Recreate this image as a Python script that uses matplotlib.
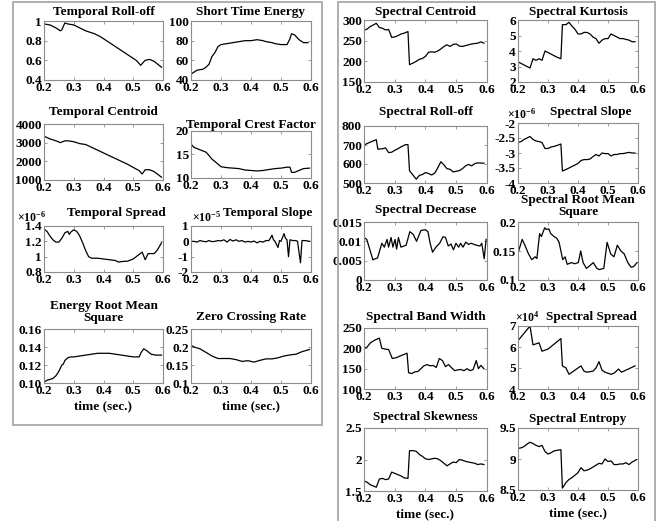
import numpy as np
import matplotlib
matplotlib.use("Agg")
import matplotlib.pyplot as plt
from matplotlib.patches import Rectangle

W, H = 667, 521

# ---- data ----
troll_t = [0.20, 0.22, 0.24, 0.255, 0.26, 0.27, 0.28, 0.30, 0.32, 0.34, 0.37, 0.39, 0.40, 0.42,
           0.45, 0.48, 0.51, 0.525, 0.54, 0.555, 0.57, 0.595]
troll_v = [0.97, 0.96, 0.93, 0.90, 0.91, 0.98, 0.97, 0.96, 0.93, 0.90, 0.87, 0.84, 0.82, 0.78,
           0.72, 0.66, 0.60, 0.55, 0.60, 0.61, 0.59, 0.53]

ste_t = [0.20, 0.21, 0.22, 0.24, 0.25, 0.26, 0.27, 0.28, 0.29, 0.30, 0.32, 0.34, 0.36, 0.38,
         0.40, 0.42, 0.44, 0.45, 0.47, 0.48, 0.50, 0.52, 0.53, 0.535, 0.545, 0.56, 0.575, 0.59]
ste_v = [46, 48, 50, 51, 53, 56, 64, 68, 74, 76, 77, 78, 79, 80,
         80, 81, 80, 79, 78, 77, 76, 76, 82, 87, 86, 81, 78, 78]

tcen_t = [0.20, 0.22, 0.24, 0.255, 0.27, 0.28, 0.30, 0.32, 0.34, 0.36, 0.40, 0.44, 0.48, 0.52,
          0.53, 0.54, 0.555, 0.57, 0.595]
tcen_v = [3350, 3200, 3100, 3000, 3100, 3100, 3050, 2950, 2900, 2750, 2450, 2150, 1850, 1500,
          1320, 1550, 1550, 1450, 1150]

crest_t = [0.20, 0.21, 0.23, 0.25, 0.26, 0.27, 0.28, 0.30, 0.32, 0.34, 0.36, 0.38, 0.40, 0.42,
           0.44, 0.46, 0.48, 0.50, 0.52, 0.53, 0.535, 0.545, 0.56, 0.575, 0.595]
crest_v = [17.2, 16.5, 16.0, 15.5, 14.8, 14.0, 13.5, 12.4, 12.2, 12.1, 12.0, 11.7, 11.6, 11.5,
           11.6, 11.8, 12.0, 12.1, 12.3, 12.3, 11.2, 11.2, 11.6, 12.0, 12.1]

tspr_t = [0.20, 0.21, 0.22, 0.23, 0.24, 0.25, 0.26, 0.27, 0.28, 0.285, 0.29, 0.30, 0.31, 0.32,
          0.33, 0.34, 0.35, 0.36, 0.38, 0.40, 0.42, 0.44, 0.45, 0.47, 0.48, 0.50, 0.52, 0.53,
          0.54, 0.55, 0.57, 0.58, 0.595]
tspr_v = [1.36, 1.33, 1.27, 1.22, 1.19, 1.19, 1.24, 1.31, 1.33, 1.29, 1.32, 1.35, 1.33, 1.27,
          1.18, 1.08, 1.00, 0.98, 0.98, 0.97, 0.96, 0.95, 0.93, 0.94, 0.94, 0.97, 1.03, 1.06,
          0.96, 1.04, 1.04, 1.08, 1.18]

tslo_t = [0.20, 0.21, 0.22, 0.23, 0.24, 0.25, 0.26, 0.27, 0.28, 0.29, 0.30, 0.31, 0.32, 0.33,
          0.34, 0.35, 0.36, 0.37, 0.38, 0.39, 0.40, 0.41, 0.42, 0.43, 0.44, 0.45, 0.46, 0.47,
          0.475, 0.48, 0.49, 0.495, 0.50, 0.51, 0.515, 0.52, 0.525, 0.53, 0.54, 0.55, 0.555,
          0.565, 0.57, 0.58, 0.595]
tslo_v = [0.0, 0.0, -0.05, 0.05, 0.0, -0.03, 0.05, -0.02, 0.0, 0.05, 0.03, 0.1, -0.05, 0.12,
          0.02, 0.1, 0.0, 0.05, -0.05, 0.0, -0.05, 0.02, -0.1, 0.0, -0.05, 0.05, 0.05, 0.4,
          0.1, 0.0, -0.4, 0.05, 0.0, 0.5, 0.2, 0.1, -1.0, 0.1, 0.05, 0.05, 0.0,
          -1.4, 0.05, 0.05, 0.0]

erms_t = [0.20, 0.21, 0.22, 0.23, 0.24, 0.25, 0.26, 0.265, 0.27, 0.28, 0.29, 0.30, 0.32, 0.34,
          0.36, 0.38, 0.40, 0.42, 0.44, 0.46, 0.48, 0.50, 0.52, 0.525, 0.535, 0.545, 0.56,
          0.575, 0.595]
erms_v = [0.101, 0.103, 0.104, 0.105, 0.108, 0.113, 0.120, 0.121, 0.125, 0.128, 0.129, 0.129,
          0.130, 0.131, 0.132, 0.133, 0.133, 0.133, 0.132, 0.131, 0.130, 0.129, 0.129, 0.133,
          0.138, 0.136, 0.132, 0.131, 0.131]

zcr_t = [0.20, 0.21, 0.23, 0.25, 0.27, 0.29, 0.31, 0.33, 0.35, 0.37, 0.39, 0.41, 0.43, 0.45,
         0.47, 0.49, 0.51, 0.53, 0.55, 0.57, 0.595]
zcr_v = [0.205, 0.200, 0.195, 0.185, 0.175, 0.168, 0.168, 0.168, 0.165, 0.160, 0.162, 0.158,
         0.163, 0.167, 0.167, 0.170, 0.175, 0.178, 0.180, 0.187, 0.193]

scen_t = [0.20, 0.21, 0.22, 0.235, 0.24, 0.25, 0.26, 0.27, 0.28, 0.285, 0.29, 0.30, 0.31, 0.32,
          0.33, 0.343, 0.348, 0.36, 0.37, 0.38, 0.39, 0.40, 0.41, 0.42, 0.43, 0.44, 0.45, 0.46,
          0.47, 0.48, 0.49, 0.50, 0.51, 0.52, 0.53, 0.54, 0.55, 0.56, 0.57, 0.58, 0.59]
scen_v = [275, 278, 284, 290, 292, 282, 280, 276, 277, 268, 258, 259, 262, 266,
          268, 272, 192, 196, 200, 205, 207, 212, 222, 223, 222, 225, 230, 236,
          240, 236, 241, 242, 237, 236, 238, 240, 242, 243, 244, 247, 244]

skur_t = [0.20, 0.21, 0.22, 0.24, 0.25, 0.26, 0.27, 0.28, 0.29, 0.30, 0.31, 0.32, 0.33, 0.343,
          0.348, 0.36, 0.37, 0.38, 0.39, 0.40, 0.41, 0.42, 0.43, 0.44, 0.45, 0.46, 0.47, 0.48,
          0.49, 0.50, 0.51, 0.52, 0.53, 0.54, 0.55, 0.56, 0.57, 0.58, 0.59]
skur_v = [3.3, 3.2, 3.1, 2.9, 3.5, 3.4, 3.5, 3.4, 4.0, 3.9, 3.8, 3.7, 3.6, 3.5,
          5.7, 5.7, 5.85, 5.6, 5.4, 5.1, 5.1, 5.2, 5.2, 5.1, 4.9, 4.8, 4.5, 4.7,
          4.8, 4.8, 5.1, 5.0, 4.9, 4.8, 4.8, 4.75, 4.7, 4.6, 4.6]

sroll_t = [0.20, 0.22, 0.24, 0.245, 0.26, 0.27, 0.28, 0.29, 0.30, 0.31, 0.32, 0.335, 0.343,
           0.348, 0.36, 0.37, 0.38, 0.39, 0.40, 0.41, 0.42, 0.43, 0.44, 0.45, 0.46, 0.47,
           0.48, 0.49, 0.50, 0.51, 0.52, 0.53, 0.54, 0.55, 0.56, 0.57, 0.58, 0.59]
sroll_v = [700, 715, 728, 678, 680, 685, 660, 662, 672, 680, 690, 702, 702,
           565, 540, 520, 540, 545, 555, 550, 542, 552, 580, 612, 595, 575,
           572, 558, 562, 565, 575, 590, 598, 590, 602, 606, 605, 604]

sslo_t = [0.20, 0.21, 0.22, 0.24, 0.25, 0.26, 0.27, 0.28, 0.29, 0.30, 0.31, 0.32, 0.33, 0.343,
          0.348, 0.36, 0.37, 0.38, 0.39, 0.40, 0.41, 0.42, 0.43, 0.44, 0.45, 0.46, 0.47, 0.48,
          0.49, 0.50, 0.51, 0.52, 0.53, 0.54, 0.55, 0.56, 0.57, 0.58, 0.59]
sslo_v = [-2.65, -2.62, -2.55, -2.45, -2.55, -2.6, -2.62, -2.65, -2.85, -2.85, -2.8, -2.78,
          -2.75, -2.7, -3.6, -3.55, -3.5, -3.45, -3.4, -3.35, -3.25, -3.22, -3.22, -3.2, -3.12,
          -3.05, -3.1, -3.0, -3.02, -3.02, -3.1, -3.05, -3.05, -3.02, -3.02, -3.0, -2.98, -3.0,
          -3.0]

sdec_t = [0.200, 0.209, 0.229, 0.237, 0.244, 0.258, 0.266, 0.275, 0.280, 0.288, 0.294, 0.301,
          0.306, 0.312, 0.320, 0.337, 0.349, 0.360, 0.371, 0.385, 0.400, 0.408, 0.415, 0.423,
          0.434, 0.446, 0.457, 0.465, 0.474, 0.483, 0.491, 0.499, 0.508, 0.514, 0.522, 0.531,
          0.540, 0.548, 0.565, 0.577, 0.583, 0.591, 0.597]
sdec_v = [0.0110, 0.0105, 0.0052, 0.0055, 0.0057, 0.0095, 0.0085, 0.0105, 0.0085, 0.0110,
          0.0085, 0.0105, 0.0080, 0.0110, 0.0085, 0.0090, 0.0125, 0.0118, 0.0100, 0.0128,
          0.0130, 0.0125, 0.0095, 0.0072, 0.0085, 0.0095, 0.0112, 0.0110, 0.0088, 0.0093,
          0.0078, 0.0095, 0.0085, 0.0095, 0.0085, 0.0098, 0.0092, 0.0095, 0.0090, 0.0088,
          0.0095, 0.0055, 0.0105]

srms_t = [0.202, 0.214, 0.223, 0.235, 0.246, 0.257, 0.263, 0.272, 0.278, 0.289, 0.295, 0.303,
          0.309, 0.320, 0.329, 0.337, 0.349, 0.357, 0.364, 0.378, 0.389, 0.401, 0.409, 0.417,
          0.428, 0.440, 0.451, 0.463, 0.471, 0.486, 0.497, 0.509, 0.520, 0.531, 0.543, 0.554,
          0.566, 0.577, 0.585, 0.597]
srms_v = [0.150, 0.170, 0.160, 0.145, 0.135, 0.140, 0.137, 0.180, 0.175, 0.190, 0.187, 0.188,
          0.180, 0.175, 0.172, 0.165, 0.135, 0.140, 0.127, 0.130, 0.128, 0.130, 0.150, 0.130,
          0.120, 0.125, 0.130, 0.120, 0.118, 0.120, 0.165, 0.145, 0.140, 0.160, 0.150, 0.145,
          0.130, 0.122, 0.123, 0.130]

sbw_t = [0.200, 0.210, 0.220, 0.230, 0.240, 0.250, 0.258, 0.270, 0.280, 0.292, 0.305, 0.320,
         0.340, 0.345, 0.355, 0.365, 0.375, 0.385, 0.395, 0.405, 0.415, 0.425, 0.435, 0.445,
         0.455, 0.465, 0.475, 0.485, 0.495, 0.505, 0.515, 0.525, 0.535, 0.545, 0.555, 0.565,
         0.572, 0.580, 0.590]
sbw_v = [200, 203, 213, 218, 222, 225, 200, 198, 197, 175, 177, 182,
         188, 140, 138, 142, 143, 150, 157, 160, 157, 158, 153, 175,
         170, 155, 160, 152, 145, 147, 148, 145, 150, 145, 148, 170,
         150, 158, 150]

sspr_t = [0.20, 0.24, 0.25, 0.27, 0.28, 0.30, 0.343, 0.348, 0.36, 0.37, 0.38, 0.39, 0.41,
          0.42, 0.43, 0.45, 0.46, 0.47, 0.48, 0.49, 0.50, 0.51, 0.52, 0.535, 0.545, 0.56,
          0.575, 0.59]
sspr_v = [6.3, 7.0, 6.1, 6.2, 5.8, 5.9, 6.4, 5.1, 5.0, 4.7, 4.8, 4.9, 5.1,
          4.85, 4.8, 4.85, 5.0, 5.3, 4.9, 4.8, 4.75, 4.7, 4.75, 4.95, 4.8, 4.9,
          5.0, 5.1]

sskw_t = [0.20, 0.21, 0.22, 0.235, 0.24, 0.25, 0.26, 0.27, 0.28, 0.29, 0.30, 0.31, 0.32, 0.33,
          0.343, 0.348, 0.36, 0.37, 0.38, 0.39, 0.40, 0.41, 0.42, 0.43, 0.44, 0.45, 0.46, 0.47,
          0.48, 0.49, 0.50, 0.51, 0.52, 0.53, 0.54, 0.55, 0.56, 0.57, 0.58, 0.59]
sskw_v = [1.66, 1.64, 1.60, 1.57, 1.56, 1.69, 1.70, 1.68, 1.69, 1.80, 1.78, 1.76, 1.74, 1.71,
          1.70, 2.14, 2.14, 2.13, 2.08, 2.05, 2.01, 2.00, 2.01, 2.02, 2.01, 1.98, 1.94, 1.90,
          1.93, 1.96, 1.95, 2.00, 1.99, 1.97, 1.96, 1.95, 1.94, 1.92, 1.93, 1.92]

sent_t = [0.20, 0.21, 0.22, 0.23, 0.24, 0.25, 0.26, 0.27, 0.28, 0.29, 0.30, 0.31, 0.32, 0.33,
          0.343, 0.348, 0.36, 0.37, 0.38, 0.39, 0.40, 0.41, 0.42, 0.43, 0.44, 0.45, 0.46, 0.47,
          0.48, 0.49, 0.50, 0.51, 0.52, 0.53, 0.54, 0.55, 0.56, 0.57, 0.58, 0.595]
sent_v = [9.17, 9.18, 9.20, 9.24, 9.27, 9.25, 9.22, 9.20, 9.22, 9.12, 9.08, 9.10, 9.13, 9.14,
          9.15, 8.53, 8.62, 8.67, 8.70, 8.74, 8.78, 8.86, 8.81, 8.82, 8.84, 8.87, 8.90, 8.93,
          8.92, 9.00, 8.96, 8.97, 8.91, 8.91, 8.92, 8.92, 8.94, 8.91, 8.95, 8.99]

x_ticks = [0.2, 0.3, 0.4, 0.5, 0.6]
x_ticklabels = ["0.2", "0.3", "0.4", "0.5", "0.6"]

# title, t, v, yticks, yticklabels, axes box in px (x0, y0, x1, y1), title y px,
# multiplier (exponent, x px, title shift px), xlabel
panels = [
    ("Temporal Roll-off", troll_t, troll_v, [0.4, 0.6, 0.8, 1], ["0.4", "0.6", "0.8", "1"],
     (44, 21, 163, 80), 12, None, False),
    ("Short Time Energy", ste_t, ste_v, [40, 60, 80, 100], ["40", "60", "80", "100"],
     (191, 21, 311, 80), 12, None, False),
    ("Temporal Centroid", tcen_t, tcen_v, [1000, 2000, 3000, 4000],
     ["1000", "2000", "3000", "4000"], (44, 124, 163, 180), 112, None, False),
    ("Temporal Crest Factor", crest_t, crest_v, [10, 15, 20], ["10", "15", "20"],
     (191, 131, 311, 178), 125, None, False),
    ("Temporal Spread", tspr_t, tspr_v, [0.8, 1, 1.2, 1.4], ["0.8", "1", "1.2", "1.4"],
     (44, 226, 163, 272), 213, ("-6", 17, 13), False),
    ("Temporal Slope", tslo_t, tslo_v, [-2, -1, 0, 1], ["-2", "-1", "0", "1"],
     (191, 226, 311, 272), 213, ("-5", 192, 17), False),
    ("Energy Root Mean\nSquare", erms_t, erms_v, [0.10, 0.12, 0.14, 0.16],
     ["0.10", "0.12", "0.14", "0.16"], (44, 329, 163, 383), 312, None, True),
    ("Zero Crossing Rate", zcr_t, zcr_v, [0.1, 0.15, 0.2, 0.25], ["0.1", "0.15", "0.2", "0.25"],
     (191, 329, 311, 383), 317, None, True),
    ("Spectral Centroid", scen_t, scen_v, [150, 200, 250, 300], ["150", "200", "250", "300"],
     (364, 20, 487, 82), 12, None, False),
    ("Spectral Kurtosis", skur_t, skur_v, [2, 3, 4, 5, 6], ["2", "3", "4", "5", "6"],
     (518, 20, 638, 82), 12, None, False),
    ("Spectral Roll-off", sroll_t, sroll_v, [500, 600, 700, 800], ["500", "600", "700", "800"],
     (364, 126, 487, 183), 112, None, False),
    ("Spectral Slope", sslo_t, sslo_v, [-4, -3.5, -3, -2.5, -2],
     ["-4", "-3.5", "-3", "-2.5", "-2"], (518, 123, 638, 183), 112, ("-6", 507, 13), False),
    ("Spectral Decrease", sdec_t, sdec_v, [0, 0.005, 0.01, 0.015], ["0", "0.005", "0.01", "0.015"],
     (364, 222, 487, 280), 210, None, False),
    ("Spectral Root Mean\nSquare", srms_t, srms_v, [0.1, 0.15, 0.2], ["0.1", "0.15", "0.2"],
     (518, 222, 638, 280), 206, None, False),
    ("Spectral Band Width", sbw_t, sbw_v, [100, 150, 200, 250], ["100", "150", "200", "250"],
     (364, 328, 487, 389), 317, None, False),
    ("Spectral Spread", sspr_t, sspr_v, [4, 5, 6, 7], ["4", "5", "6", "7"],
     (518, 326, 638, 389), 317, ("4", 515, 13), False),
    ("Spectral Skewness", sskw_t, sskw_v, [1.5, 2, 2.5], ["1.5", "2", "2.5"],
     (364, 428, 487, 491), 417, None, True),
    ("Spectral Entropy", sent_t, sent_v, [8.5, 9, 9.5], ["8.5", "9", "9.5"],
     (518, 428, 638, 490), 419, None, True),
]

FONT = "Liberation Serif"
GRAY = "#8c8c8c"
FS = 9.5

plt.rcParams["font.family"] = FONT
plt.rcParams["font.weight"] = "bold"
plt.rcParams["mathtext.fontset"] = "custom"
plt.rcParams["mathtext.rm"] = FONT
plt.rcParams["mathtext.bf"] = FONT + ":bold"

fig = plt.figure(figsize=(W / 100, H / 100), dpi=100)
fig.patch.set_facecolor("white")

# panel frames
for x0, y0, x1, y1 in [(13, 2, 322, 425), (338, 2, 655, 540)]:
    fig.add_artist(Rectangle((x0 / W, 1 - y1 / H), (x1 - x0) / W, (y1 - y0) / H,
                             transform=fig.transFigure, fill=False, ec="#a8a8a8", lw=1.3))

for title, t, v, yt, ytl, box, ty, mult, xlab in panels:
    x0, y0, x1, y1 = box
    ax = fig.add_axes([x0 / W, 1 - y1 / H, (x1 - x0) / W, (y1 - y0) / H])
    ax.plot(t, v, color="black", lw=0.9)
    ax.set_xlim(0.2, 0.6)
    ax.set_ylim(yt[0], yt[-1])
    ax.set_xticks(x_ticks)
    ax.set_xticklabels(x_ticklabels)
    ax.set_yticks(yt)
    ax.set_yticklabels(ytl)
    ax.tick_params(direction="in", length=2.5, width=0.6, color=GRAY, labelsize=FS,
                   top=True, right=True, pad=1.5)
    for lab in ax.get_xticklabels() + ax.get_yticklabels():
        lab.set_fontweight("bold")
    for s in ax.spines.values():
        s.set_color(GRAY)
        s.set_linewidth(0.8)
    # titles next to a x10 label sit a little to the right, as in the source
    tx = (x0 + x1) / 2 + (mult[2] if mult is not None else 0)
    fig.text(tx / W, 1 - ty / H, title, ha="center", va="center",
             fontsize=FS, fontweight="bold", linespacing=0.9)
    if mult is not None:
        exp, mx, _ = mult
        fig.text(mx / W, 1 - (y0 - 9) / H, r"$\mathbf{\times10^{%s}}$" % exp, ha="left",
                 va="center", fontsize=FS - 1)
    if xlab:
        ax.set_xlabel("time (sec.)", fontsize=FS, fontweight="bold", labelpad=2)

fig.savefig("out.png", dpi=100)
